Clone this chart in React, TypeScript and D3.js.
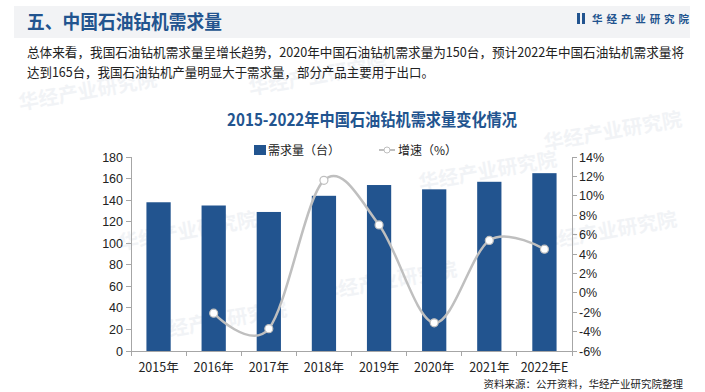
import React from "react";
import * as d3 from "d3";

const years = ["2015年", "2016年", "2017年", "2018年", "2019年", "2020年", "2021年", "2022年E"];
const demand = [138, 135, 129, 144, 154, 150, 157, 165];
const growth = [null, -2.1, -3.7, 11.6, 7.0, -3.1, 5.4, 4.5];
const leftTicks = [0, 20, 40, 60, 80, 100, 120, 140, 160, 180];
const rightTicks = [-6, -4, -2, 0, 2, 4, 6, 8, 10, 12, 14];

const W = 705;
const H = 392;
const blue = "#22548f";
const cjk = "'Noto Sans CJK SC', 'Noto Sans', sans-serif";
const num = "'Liberation Sans', Arial, sans-serif";

const App = () => {
  const margin = { left: 131, right: 133, top: 157, bottom: 41 };
  const x = d3
    .scaleBand()
    .domain(years)
    .range([margin.left, W - margin.right]);
  const yL = d3.scaleLinear().domain([0, 180]).range([H - margin.bottom, margin.top]);
  const yR = d3.scaleLinear().domain([-6, 14]).range([H - margin.bottom, margin.top]);
  const barW = x.bandwidth() * 0.44;

  const pts = years
    .map((y, i) => ({ y, v: growth[i] }))
    .filter(d => d.v !== null);
  const line = d3
    .line()
    .x(d => x(d.y) + x.bandwidth() / 2)
    .y(d => yR(d.v))
    .curve(d3.curveCardinal.tension(0));

  const x0 = margin.left;
  const x1 = W - margin.right;
  const yBase = H - margin.bottom;

  // faint watermarks
  const marks = [
    [250, 95], [20, 110], [120, 250], [420, 190], [150, 340],
    [540, 250], [320, 300], [545, 150],
  ];

  return (
    <svg
      width={W}
      height={H}
      style={{ position: "absolute", left: 0, top: 0, background: "#fff" }}
    >
      {/* header band */}
      <rect x={14} y={6} width={676} height={32} fill="#f2f3f5" />
      <text x={27} y={29} fill={blue} fontFamily={cjk} fontWeight="bold" fontSize={19} textLength={195} lengthAdjust="spacingAndGlyphs">
        五、中国石油钻机需求量
      </text>
      <rect x={577} y={13} width={3} height={11} fill={blue} />
      <rect x={582} y={13} width={3} height={11} fill={blue} />
      <text x={592} y={23} fill={blue} fontFamily={cjk} fontWeight="bold" fontSize={10.5} textLength={97} lengthAdjust="spacing">
        华经产业研究院
      </text>

      {marks.map((m, i) => (
        <text
          key={i}
          x={m[0]}
          y={m[1]}
          transform={`rotate(-10 ${m[0]} ${m[1]})`}
          fill="#c4cdd9"
          opacity={0.22}
          fontFamily={cjk}
          fontWeight="bold"
          fontSize={20}
        >
          华经产业研究院
        </text>
      ))}

      {/* intro text */}
      <text x={27} y={57} fill="#222" fontFamily={cjk} fontSize={13} textLength={657} lengthAdjust="spacingAndGlyphs">
        总体来看，我国石油钻机需求量呈增长趋势，2020年中国石油钻机需求量为150台，预计2022年中国石油钻机需求量将
      </text>
      <text x={27} y={77} fill="#222" fontFamily={cjk} fontSize={13} textLength={407} lengthAdjust="spacingAndGlyphs">
        达到165台，我国石油钻机产量明显大于需求量，部分产品主要用于出口。
      </text>

      {/* title */}
      <text x={227} y={126} fill={blue} fontFamily={cjk} fontWeight="bold" fontSize={17} textLength={290} lengthAdjust="spacingAndGlyphs">
        2015-2022年中国石油钻机需求量变化情况
      </text>

      {/* legend */}
      <rect x={254} y={145} width={12} height={10} fill={blue} />
      <text x={268} y={155} fill="#222" fontFamily={cjk} fontSize={12}>需求量（台）</text>
      <line x1={379} x2={395} y1={150} y2={150} stroke="#bfbfbf" strokeWidth={2} />
      <circle cx={387} cy={150} r={3} fill="#fff" stroke="#bfbfbf" strokeWidth={1} />
      <text x={398} y={155} fill="#222" fontFamily={cjk} fontSize={12}>增速（%）</text>

      {/* bars */}
      {years.map((y, i) => (
        <rect
          key={y}
          x={x(y) + (x.bandwidth() - barW) / 2}
          y={yL(demand[i])}
          width={barW}
          height={yBase - yL(demand[i])}
          fill={blue}
        />
      ))}

      {/* axes */}
      <g stroke="#a6a6a6" strokeWidth={1} shapeRendering="crispEdges">
        <line x1={x0} x2={x0} y1={margin.top} y2={yBase} />
        <line x1={x1} x2={x1} y1={margin.top} y2={yBase} />
        <line x1={x0} x2={x1} y1={yBase} y2={yBase} />
        {leftTicks.map(t => (
          <line key={"l" + t} x1={x0 - 5} x2={x0} y1={yL(t)} y2={yL(t)} />
        ))}
        {rightTicks.map(t => (
          <line key={"r" + t} x1={x1} x2={x1 + 5} y1={yR(t)} y2={yR(t)} />
        ))}
        {years.map(y => (
          <line key={"b" + y} x1={x(y)} x2={x(y)} y1={yBase} y2={yBase + 5} />
        ))}
        <line x1={x1} x2={x1} y1={yBase} y2={yBase + 5} />
      </g>
      {leftTicks.map(t => (
        <text key={"lt" + t} x={x0 - 8} y={yL(t) + 4.5} textAnchor="end" fill="#222" fontFamily={num} fontSize={12.5}>
          {t}
        </text>
      ))}
      {rightTicks.map(t => (
        <text key={"rt" + t} x={x1 + 7} y={yR(t) + 4.5} fill="#222" fontFamily={num} fontSize={12.5}>
          {t + "%"}
        </text>
      ))}
      {years.map(y => (
        <text key={"xt" + y} x={x(y) + x.bandwidth() / 2} y={372} textAnchor="middle" fill="#222" fontFamily={cjk} fontSize={12.5}>
          {y}
        </text>
      ))}

      {/* growth line */}
      <path d={line(pts)} fill="none" stroke="#bfbfbf" strokeWidth={2.5} />
      {pts.map(d => (
        <circle
          key={d.y}
          cx={x(d.y) + x.bandwidth() / 2}
          cy={yR(d.v)}
          r={4}
          fill="#fff"
          stroke="#bfbfbf"
          strokeWidth={1.2}
        />
      ))}

      {/* source */}
      <text x={683} y={388} textAnchor="end" fill="#222" fontFamily={cjk} fontSize={10.5}>
        资料来源：公开资料，华经产业研究院整理
      </text>
    </svg>
  );
};

export default App;
